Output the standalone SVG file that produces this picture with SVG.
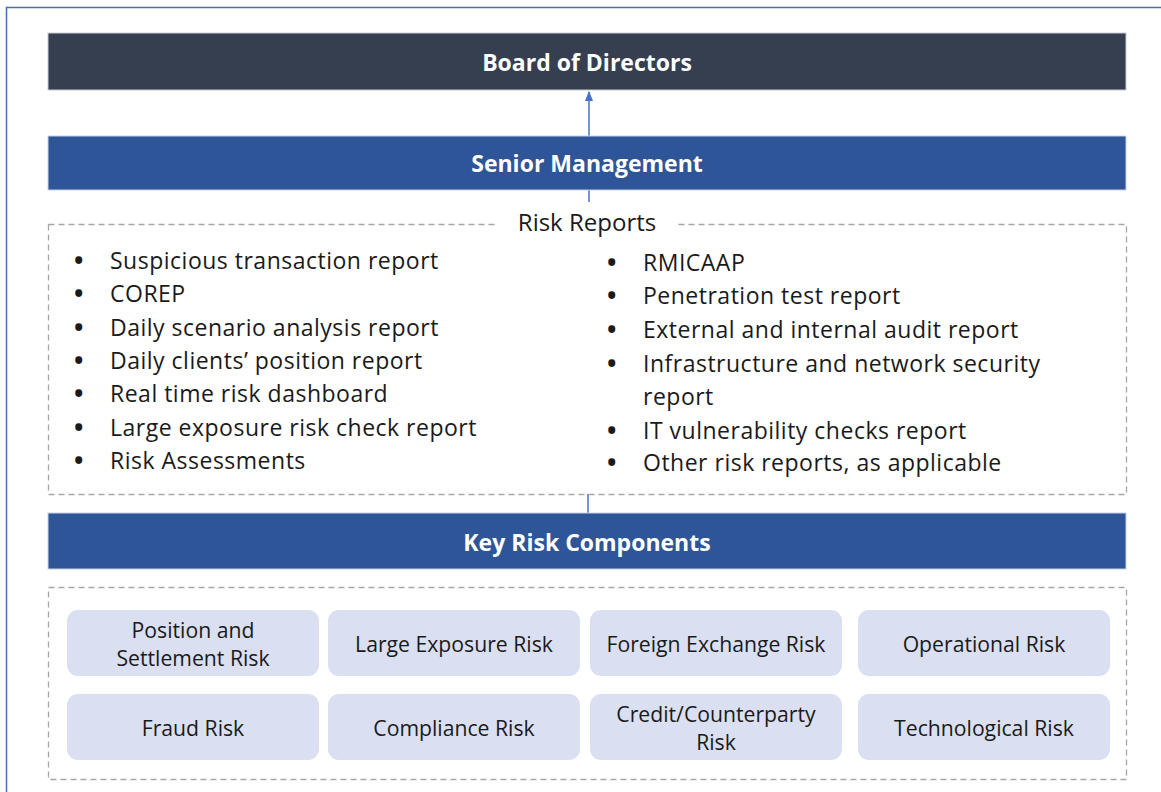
<svg xmlns="http://www.w3.org/2000/svg" width="1161" height="792" viewBox="0 0 1161 792">
<defs>
<style>
.bar-dark{fill:#353f50;stroke:#c9ccd2;stroke-width:1}
.bar{fill:#2e5597;stroke:#c9d1e3;stroke-width:1}
.title{font-family:"Open Sans","Noto Sans",sans-serif;font-weight:bold;font-size:23px;fill:#ffffff;text-anchor:middle;dominant-baseline:central}
.dash{fill:none;stroke:#a6a6a6;stroke-width:1.3;stroke-dasharray:6 4}
.item{font-family:"Open Sans","Noto Sans",sans-serif;font-size:23px;letter-spacing:0.5px;fill:#1a1a1a}
.b{font-weight:bold;font-size:25px}
.risk{fill:#dae0f1}
.rt{font-family:"Open Sans","Noto Sans",sans-serif;font-size:21.2px;fill:#1a1a1a;text-anchor:middle;dominant-baseline:central}
.conn{stroke:#4472c4;stroke-width:1.5;fill:none}
</style>
<marker id="arr" viewBox="0 0 10 10" refX="9" refY="5" markerWidth="7" markerHeight="7" orient="auto">
<path d="M0,1 L10,5 L0,9 Z" fill="#4472c4"/>
</marker>
</defs>
<rect x="0" y="0" width="1161" height="792" fill="#ffffff"/>
<rect x="6.5" y="7.5" width="1170" height="800" fill="none" stroke="#4a6cb0" stroke-width="1.5"/>

<g id="connectors">
<line class="conn" x1="589" y1="136" x2="589" y2="92" marker-end="url(#arr)"/>
<line class="conn" x1="589" y1="190" x2="589" y2="202"/>
<line class="conn" x1="588" y1="494" x2="588" y2="513"/>
</g>

<g id="board">
<rect class="bar-dark" x="48" y="33" width="1078" height="57"/>
<text class="title" x="587" y="62">Board of Directors</text>
</g>

<g id="senior">
<rect class="bar" x="48" y="136" width="1078" height="54"/>
<text class="title" x="587" y="163">Senior Management</text>
</g>

<g id="reports">
<rect class="dash" x="48.5" y="224.5" width="1078" height="270"/>
<rect x="497" y="210" width="178" height="26" fill="#ffffff"/>
<text x="587" y="231" font-family="'Open Sans','Noto Sans',sans-serif" font-size="24px" fill="#1a1a1a" text-anchor="middle">Risk Reports</text>
<g class="item">
<text class="b" x="74" y="269">•</text><text x="110" y="269">Suspicious transaction report</text>
<text class="b" x="74" y="302">•</text><text x="110" y="302">COREP</text>
<text class="b" x="74" y="336">•</text><text x="110" y="336">Daily scenario analysis report</text>
<text class="b" x="74" y="369">•</text><text x="110" y="369">Daily clients’ position report</text>
<text class="b" x="74" y="402">•</text><text x="110" y="402">Real time risk dashboard</text>
<text class="b" x="74" y="436">•</text><text x="110" y="436">Large exposure risk check report</text>
<text class="b" x="74" y="469">•</text><text x="110" y="469">Risk Assessments</text>
<text class="b" x="607" y="271">•</text><text x="643" y="271">RMICAAP</text>
<text class="b" x="607" y="304">•</text><text x="643" y="304">Penetration test report</text>
<text class="b" x="607" y="338">•</text><text x="643" y="338">External and internal audit report</text>
<text class="b" x="607" y="372">•</text><text x="643" y="372">Infrastructure and network security</text>
<text x="643" y="405">report</text>
<text class="b" x="607" y="439">•</text><text x="643" y="439">IT vulnerability checks report</text>
<text class="b" x="607" y="471">•</text><text x="643" y="471">Other risk reports, as applicable</text>
</g>
</g>

<g id="key">
<rect class="bar" x="48" y="513" width="1078" height="56"/>
<text class="title" x="587" y="542">Key Risk Components</text>
</g>

<g id="components">
<rect class="dash" x="48.5" y="587.5" width="1078" height="192"/>
</g>

<g id="r1"><rect class="risk" x="67" y="610" width="252" height="66" rx="11"/><text class="rt" x="193" y="629">Position and</text><text class="rt" x="193" y="657">Settlement Risk</text></g>
<g id="r2"><rect class="risk" x="328" y="610" width="252" height="66" rx="11"/><text class="rt" x="454" y="643">Large Exposure Risk</text></g>
<g id="r3"><rect class="risk" x="590" y="610" width="252" height="66" rx="11"/><text class="rt" x="716" y="643">Foreign Exchange Risk</text></g>
<g id="r4"><rect class="risk" x="858" y="610" width="252" height="66" rx="11"/><text class="rt" x="984" y="643">Operational Risk</text></g>
<g id="r5"><rect class="risk" x="67" y="694" width="252" height="66" rx="11"/><text class="rt" x="193" y="727">Fraud Risk</text></g>
<g id="r6"><rect class="risk" x="328" y="694" width="252" height="66" rx="11"/><text class="rt" x="454" y="727">Compliance Risk</text></g>
<g id="r7"><rect class="risk" x="590" y="694" width="252" height="66" rx="11"/><text class="rt" x="716" y="713">Credit/Counterparty</text><text class="rt" x="716" y="741">Risk</text></g>
<g id="r8"><rect class="risk" x="858" y="694" width="252" height="66" rx="11"/><text class="rt" x="984" y="727">Technological Risk</text></g>
</svg>
